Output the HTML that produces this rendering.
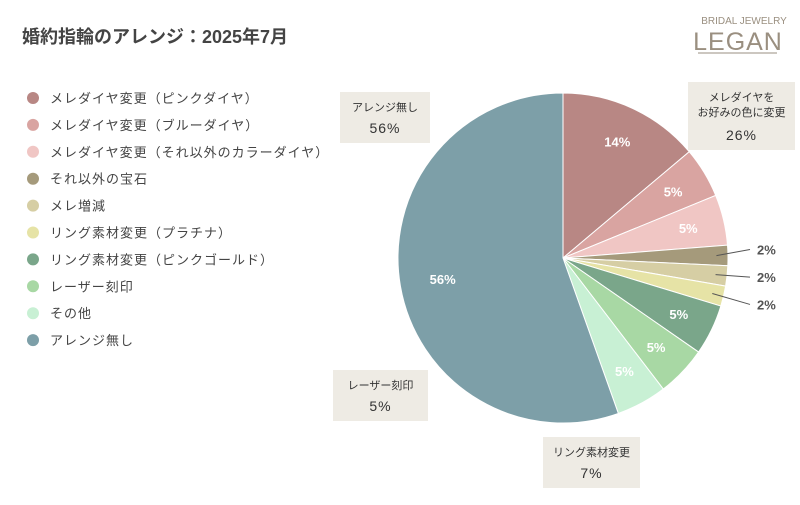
<!DOCTYPE html>
<html><head><meta charset="utf-8"><style>
body{margin:0;width:800px;height:500px;background:#fff;font-family:"Liberation Sans","Noto Sans CJK JP",sans-serif;overflow:hidden}
svg text{font-family:"Liberation Sans","Noto Sans CJK JP",sans-serif}
</style></head><body>
<svg width="800" height="500">
<text x="22" y="43" font-size="18" font-weight="bold" fill="#444">婚約指輪のアレンジ：2025年7月</text>
<g>
<text x="744" y="24" font-size="10" fill="#9a8f80" text-anchor="middle" font-family="Liberation Serif,serif">BRIDAL JEWELRY</text>
<text x="738" y="50" font-size="25" fill="#9a8f80" text-anchor="middle" font-family="Liberation Serif,serif" letter-spacing="1">LEGAN</text>
<line x1="698" y1="53" x2="777" y2="53" stroke="#9a8f80" stroke-width="1"/>
</g>
<g id="legend"></g>
<g id="pie"></g>
<g id="labels"></g>
</svg>
<script>
const categories=["メレダイヤ変更（ピンクダイヤ）","メレダイヤ変更（ブルーダイヤ）","メレダイヤ変更（それ以外のカラーダイヤ）","それ以外の宝石","メレ増減","リング素材変更（プラチナ）","リング素材変更（ピンクゴールド）","レーザー刻印","その他","アレンジ無し"];
const values=[14,5,5,2,2,2,5,5,5,56];
const colors=["#b88784","#d9a4a1","#f0c6c4","#a59a7b","#d6cea4","#e6e3a6","#7aa68a","#a8d8a4","#c8f0d4","#7d9fa8"];
const NS="http://www.w3.org/2000/svg";
function mk(t,a,p){const e=document.createElementNS(NS,t);for(const k in a)e.setAttribute(k,a[k]);p.appendChild(e);return e;}
const cx=563,cy=258,r=165;
const total=values.reduce((a,b)=>a+b,0);
const lg=document.getElementById('legend');
categories.forEach((c,i)=>{
 const y=98+i*26.9;
 const g=mk('g',{},lg);
 
 
 mk('circle',{cx:33,cy:y,r:6,fill:colors[i]},g);
 const t=mk('text',{x:50,y:y+5,'font-size':13,fill:'#444','letter-spacing':'1'},g);t.textContent=c;
});
const pg=document.getElementById('pie');
const pt=(a,rr)=>[cx+rr*Math.sin(a),cy-rr*Math.cos(a)];
let acc=0;
values.forEach((v,i)=>{
 const a0=acc/total*2*Math.PI;acc+=v;const a1=acc/total*2*Math.PI;
 const [x0,y0]=pt(a0,r),[x1,y1]=pt(a1,r);
 const p=mk('path',{d:`M${cx},${cy}L${x0},${y0}A${r},${r} 0 ${a1-a0>Math.PI?1:0} 1 ${x1},${y1}Z`,fill:colors[i],stroke:'#fff','stroke-width':1},pg);
 
 
 const am=(a0+a1)/2;
 if(v>=5){
  const [lx,ly]=pt(am,v>20?r*0.74:r*0.78);
  const t=mk('text',{x:lx,y:ly+5,'font-size':13,'font-weight':'bold',fill:'#fff','text-anchor':'middle'},pg);t.textContent=v+'%';
  
  
 }else{
  const [sx,sy]=pt(am,r*0.93);
  const ex=750, ey=cy+(sy-cy)*1.45-5;
  mk('line',{x1:sx,y1:sy,x2:ex,y2:ey,stroke:'#555','stroke-width':1},pg);
  const t=mk('text',{x:757,y:ey+5,'font-size':13,'font-weight':'bold',fill:'#555'},pg);t.textContent=v+'%';
  
  
 }
});
const boxes=[{x:340,y:92,w:90,h:51,l:["アレンジ無し"],v:"56%"},{x:688,y:82,w:107,h:68,l:["メレダイヤを","お好みの色に変更"],v:"26%"},{x:333,y:370,w:95,h:51,l:["レーザー刻印"],v:"5%"},{x:543,y:437,w:97,h:51,l:["リング素材変更"],v:"7%"}];
const lb=document.getElementById('labels');
boxes.forEach(b=>{
 const g=mk('g',{},lb);
 
 
 mk('rect',{x:b.x,y:b.y,width:b.w,height:b.h,fill:'#eeebe4'},g);
 b.l.forEach((s,j)=>{const t=mk('text',{x:b.x+b.w/2,y:b.y+19+j*15,'font-size':11,fill:'#333','text-anchor':'middle'},g);t.textContent=s;});
 const t=mk('text',{x:b.x+b.w/2,y:b.y+b.h-10,'font-size':14,fill:'#333','text-anchor':'middle','letter-spacing':'1'},g);t.textContent=b.v;
});
</script>
</body></html>
